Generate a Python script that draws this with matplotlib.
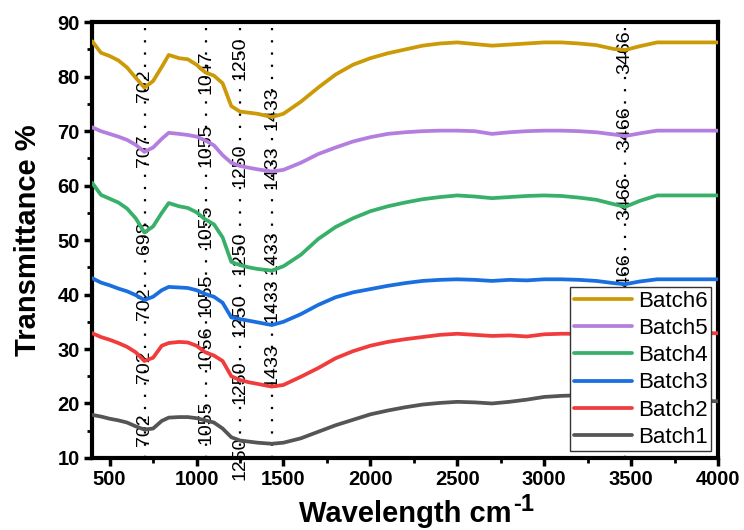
import matplotlib
matplotlib.use("Agg")
import matplotlib.pyplot as plt
from matplotlib.ticker import MultipleLocator

plt.rcParams['font.family'] = ['Liberation Sans', 'DejaVu Sans']

# wavenumbers (cm-1)
wn = [400, 450, 500, 550, 600, 650, 700, 750, 800, 840, 900, 950, 1000, 1050,
      1100, 1150, 1200, 1250, 1300, 1350, 1433, 1500, 1600, 1700, 1800, 1900,
      2000, 2100, 2200, 2300, 2400, 2500, 2600, 2700, 2800, 2900, 3000, 3100,
      3200, 3300, 3400, 3466, 3550, 3650, 3800, 4000]

batch6 = [86.5, 84.4, 83.8, 83.0, 81.7, 79.8, 78.0, 79.2, 81.8, 84.0, 83.4, 83.2,
          82.2, 80.8, 80.2, 78.8, 74.6, 73.6, 73.4, 73.2, 72.6, 73.2, 75.4, 78.0,
          80.4, 82.2, 83.4, 84.3, 85.0, 85.7, 86.1, 86.3, 86.0, 85.7, 85.9, 86.1,
          86.3, 86.3, 86.1, 85.8, 85.1, 84.9, 85.6, 86.3, 86.3, 86.3]
batch5 = [70.7, 70.0, 69.5, 69.0, 68.4, 67.5, 66.2, 67.0, 68.6, 69.7, 69.5, 69.3,
          69.0, 68.3, 67.4, 65.6, 64.2, 63.6, 63.3, 63.0, 62.6, 62.9, 64.2, 65.8,
          67.0, 68.1, 68.9, 69.5, 69.8, 70.0, 70.1, 70.1, 70.0, 69.5, 69.8, 70.0,
          70.1, 70.1, 70.0, 69.8, 69.4, 69.1, 69.6, 70.1, 70.1, 70.1]
batch4 = [60.5, 58.3, 57.6, 56.9, 55.8, 54.0, 51.4, 52.5, 55.0, 56.8, 56.2, 55.9,
          55.1, 53.8, 52.9, 50.5, 46.0, 45.4, 45.0, 44.7, 44.4, 45.2, 47.3, 50.2,
          52.4, 54.0, 55.3, 56.2, 56.9, 57.5, 57.9, 58.2, 58.0, 57.7, 57.9, 58.1,
          58.2, 58.1, 57.8, 57.4, 56.6, 56.1, 57.2, 58.2, 58.2, 58.2]
batch3 = [43.0, 42.2, 41.7, 41.1, 40.6, 39.9, 39.0, 39.6, 40.8, 41.4, 41.3, 41.2,
          40.8, 40.1, 39.6, 38.5, 35.8, 35.5, 35.2, 34.9, 34.4, 35.0, 36.4, 38.1,
          39.5, 40.4, 41.0, 41.6, 42.1, 42.5, 42.7, 42.8, 42.7, 42.5, 42.7, 42.6,
          42.8, 42.8, 42.7, 42.5, 42.1, 41.9, 42.4, 42.8, 42.8, 42.8]
batch2 = [32.9, 32.2, 31.7, 31.1, 30.4, 29.4, 27.8, 28.4, 30.6, 31.1, 31.3, 31.2,
          30.6, 29.4, 28.8, 27.8, 25.0, 24.3, 23.9, 23.6, 23.1, 23.4, 24.9, 26.5,
          28.3, 29.6, 30.6, 31.3, 31.8, 32.2, 32.6, 32.8, 32.6, 32.4, 32.5, 32.3,
          32.7, 32.8, 32.8, 32.8, 32.8, 32.7, 32.8, 32.9, 32.9, 32.9]
batch1 = [17.9, 17.6, 17.2, 16.9, 16.5, 15.8, 15.2, 15.4, 16.8, 17.4, 17.5, 17.5,
          17.3, 16.9, 16.5, 15.4, 13.8, 13.2, 13.0, 12.8, 12.6, 12.8, 13.6, 14.8,
          16.0, 17.0, 18.0, 18.7, 19.3, 19.8, 20.1, 20.3, 20.2, 20.0, 20.3, 20.7,
          21.2, 21.4, 21.5, 21.4, 21.3, 21.0, 20.9, 20.8, 20.6, 20.4]

names = ['Batch6', 'Batch5', 'Batch4', 'Batch3', 'Batch2', 'Batch1']
series = [batch6, batch5, batch4, batch3, batch2, batch1]
colors = ['#CC9A06', '#B47EDE', '#38B06A', '#1A6FE0', '#F03C3C', '#555555']

# marked bands
band_x = [702, 1055, 1250, 1433, 3466]
# peak labels per batch and the height of each label's centre
peak_txt = [['702', '1047', '1250', '1433', '3466'],
            ['707', '1055', '1250', '1433', '3466'],
            ['698', '1055', '1250', '1433', '3466'],
            ['702', '1055', '1250', '1433', '3466'],
            ['702', '1056', '1250', '1433'],
            ['702', '1055', '1250']]
peak_y = [[78.4, 80.8, 83.4, 74.2, 84.5],
          [66.5, 67.4, 63.8, 63.4, 70.6],
          [50.4, 52.6, 47.6, 47.8, 57.7],
          [38.4, 39.9, 36.2, 39.0, 43.6],
          [26.7, 30.4, 23.9, 27.1],
          [15.1, 16.6, 10.0]]

fig = plt.figure(figsize=(7.44, 5.30), dpi=100)
ax = fig.add_axes([0.124, 0.136, 0.841, 0.822])

for bx in band_x:
    ax.axvline(bx, color='black', lw=1.6, linestyle=(0, (1, 4.5)), zorder=1)

for i in range(len(series)):
    ax.plot(wn, series[i], color=colors[i], lw=2.7, label=names[i],
            solid_joinstyle='round', solid_capstyle='round', zorder=3)
    for j, txt in enumerate(peak_txt[i]):
        ax.text(band_x[j], peak_y[i][j], txt, rotation=90, ha='center',
                va='center', fontsize=14, zorder=2, clip_on=False)

ax.set_xlim(400, 4000)
ax.set_ylim(10, 90)
ax.xaxis.set_major_locator(MultipleLocator(500))
ax.xaxis.set_minor_locator(MultipleLocator(250))
ax.yaxis.set_major_locator(MultipleLocator(10))
ax.yaxis.set_minor_locator(MultipleLocator(5))
ax.tick_params(which='major', direction='out', length=6, width=2.5,
               labelsize=14.5, pad=3)
ax.tick_params(which='minor', direction='out', length=3.5, width=2)
for lbl in ax.get_xticklabels() + ax.get_yticklabels():
    lbl.set_fontweight('bold')
for sp in ax.spines.values():
    sp.set_linewidth(3)

ax.set_xlabel('Wavelength cm', fontsize=21, fontweight='bold')
ax.xaxis.set_label_coords(0.5, -0.097)
ax.annotate('-1', xy=(1, 1), xycoords=ax.xaxis.label, xytext=(1, 5),
            textcoords='offset points', ha='left', va='top',
            fontsize=17, fontweight='bold')
ax.set_ylabel('Transmittance %', fontsize=21, fontweight='bold')
ax.yaxis.set_label_coords(-0.08, 0.5)

leg = ax.legend(loc='lower right', fontsize=16, frameon=True, fancybox=False,
                edgecolor='#333333', framealpha=1, handlelength=2.6,
                handletextpad=0.3, labelspacing=0.28, borderpad=0.15,
                borderaxespad=0.3)
leg.get_frame().set_linewidth(1.0)
leg.set_zorder(5)

fig.savefig('out.png', dpi=100)
